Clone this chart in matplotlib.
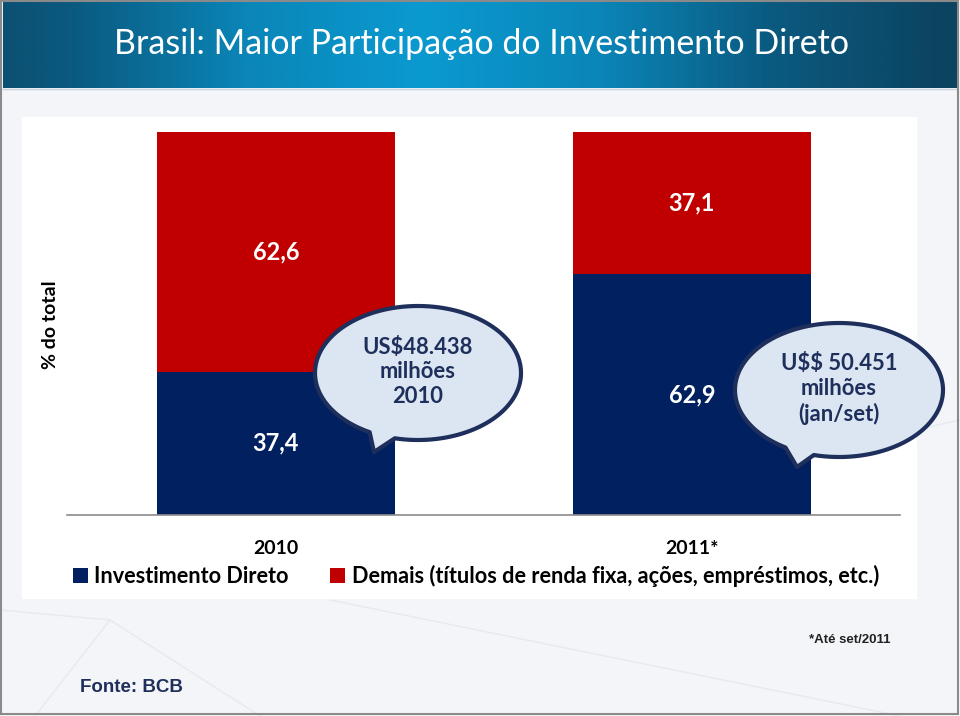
import numpy as np
import matplotlib
matplotlib.use("Agg")
import matplotlib.pyplot as plt
from matplotlib.patches import Rectangle, Polygon
from matplotlib.colors import LinearSegmentedColormap

# ---- data ----
categories = ["2010", "2011*"]
investimento_direto = [37.4, 62.9]
demais = [62.6, 37.1]
series_names = ["Investimento Direto", "Demais (títulos de renda fixa, ações, empréstimos, etc.)"]
bubble_texts = ["US$48.438\nmilhões\n2010", "U$$ 50.451\nmilhões\n(jan/set)"]
title = "Brasil: Maior Participação do Investimento Direto"

BLUE = "#002060"
RED = "#c00000"
NAVY = "#1f2f5c"
W, H = 960, 716

fig = plt.figure(figsize=(9.6, 7.16), dpi=100)

# background axes in pixel coordinates
bg = fig.add_axes([0, 0, 1, 1], zorder=0)
bg.axis("off")
bg.add_patch(Rectangle((0, 0), W, H, color="#f3f5f8", zorder=-2))
for (x0, y0, x1, y1) in [(110, 620, 35, 716), (110, 620, 260, 716), (330, 600, 900, 716),
                         (915, 430, 960, 420), (0, 610, 110, 620)]:
    bg.plot([x0, x1], [y0, y1], color="#e6e9f0", lw=1.0, zorder=-1)
grad = np.abs(np.linspace(-1, 1, 400) + 0.12)
cmap = LinearSegmentedColormap.from_list("tb", ["#0a9ad0", "#0a86b8", "#0b5a80", "#0b4360"])
bg.imshow(grad[np.newaxis, :], extent=(3, 957, 88, 2), aspect="auto", cmap=cmap, vmin=0, vmax=1.1, zorder=0)
bg.plot([3, 957], [89, 89], color="#c9d3dd", lw=1.0, zorder=2)
bg.text(481, 44, title, color="white", fontsize=24.5, family=["Lato", "DejaVu Sans"],
        ha="center", va="center", zorder=3)
bg.add_patch(Rectangle((22, 117), 894, 481, color="white", zorder=1))
bg.add_patch(Rectangle((1, 1), W - 3, H - 3, fill=False, edgecolor="#8a8a8a", lw=1.5, zorder=3))
bg.set_xlim(0, W); bg.set_ylim(H, 0)

bg.text(850, 640, "*Até set/2011", fontsize=9.5, weight="bold", color="#222222",
        family=["Liberation Sans", "DejaVu Sans"], ha="center", va="center", zorder=3)
bg.text(131, 688, "Fonte: BCB", fontsize=13.5, weight="bold", color=NAVY,
        family=["Liberation Sans", "DejaVu Sans"], ha="center", va="center", zorder=3)
bg.text(51, 325, "% do total", fontsize=14, weight="bold", color="black", rotation=90,
        family=["Lato", "DejaVu Sans"], ha="center", va="center", zorder=3)

# bar axes
left_px, right_px, base_px, top_px = 67, 900, 515, 132
ax = fig.add_axes([left_px / W, (H - base_px) / H, (right_px - left_px) / W, (base_px - top_px) / H], zorder=1)
ax.patch.set_alpha(0)
x = np.arange(len(categories))
b1 = ax.bar(x, investimento_direto, width=0.572, color=BLUE, label=series_names[0])
b2 = ax.bar(x, demais, width=0.572, bottom=investimento_direto, color=RED, label=series_names[1])
for cont, vals in [(b1, investimento_direto), (b2, demais)]:
    ax.bar_label(cont, labels=[f"{v:.1f}".replace(".", ",") for v in vals], label_type="center",
                 color="white", fontsize=17, weight="bold", family=["Lato", "DejaVu Sans"])
ax.set_xlim(-0.502, 1.5)
ax.set_ylim(0, 100)
ax.set_yticks([])
ax.set_xticks(x)
ax.set_xticklabels(categories, fontsize=14, weight="bold", family=["Lato", "DejaVu Sans"])
ax.tick_params(axis="x", length=0, pad=18)
for s in ["top", "right", "left"]:
    ax.spines[s].set_visible(False)
ax.spines["bottom"].set_color("#8c8c8c")
ax.spines["bottom"].set_linewidth(1.2)

leg = ax.legend(handles=[b1, b2], loc="center left",
                bbox_to_anchor=(66 / W, (H - 576) / H), bbox_transform=fig.transFigure,
                ncol=2, frameon=False, handlelength=0.7, handleheight=0.7, handletextpad=0.3,
                columnspacing=1.9, borderaxespad=0, borderpad=0.3,
                prop={"family": ["Lato", "DejaVu Sans"], "weight": "bold", "size": 15.6})

# overlay axes for speech bubbles
ov = fig.add_axes([0, 0, 1, 1], zorder=2)
ov.set_xlim(0, W); ov.set_ylim(H, 0); ov.axis("off"); ov.patch.set_alpha(0)

def bubble(cx, cy, a, b, t1, t2, tip, text):
    ts = np.radians(np.linspace(0, 360, 361))
    pts = []
    tail_done = False
    for t in ts:
        deg = np.degrees(t)
        if t1 < deg < t2:
            if not tail_done:
                pts.append(tip)
                tail_done = True
            continue
        pts.append((cx + a * np.cos(t), cy + b * np.sin(t)))
    ov.add_patch(Polygon(pts, closed=True, facecolor="#dce6f2", edgecolor=NAVY, lw=3, joinstyle="round"))
    ov.text(cx, cy - 1, text, ha="center", va="center", fontsize=15.8, weight="bold", color=NAVY,
            linespacing=1.2, family=["Lato", "DejaVu Sans"], parse_math=False)

bubble(418, 373, 103, 67, 103, 118, (374, 452), bubble_texts[0])
bubble(839, 390, 104, 67, 104, 120, (797, 467), bubble_texts[1])

fig.savefig("out.png", dpi=100)
